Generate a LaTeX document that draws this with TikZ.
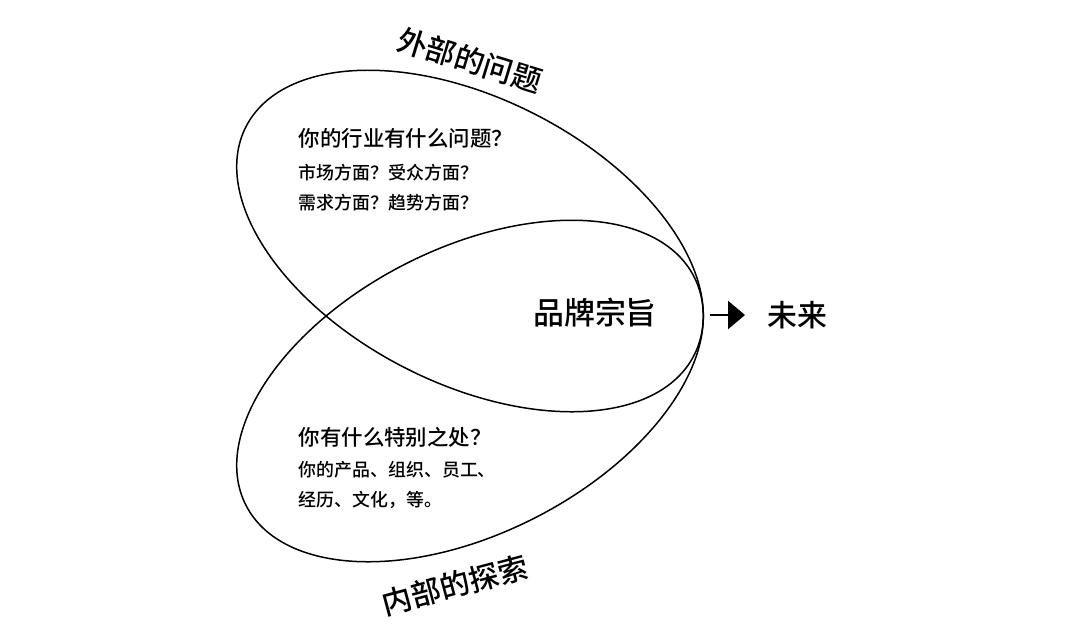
\documentclass[tikz,border=0pt]{standalone}
\usepackage{fontspec}
\setmainfont{Noto Sans CJK SC}[BoldFont={Noto Sans CJK SC Medium}]
\usetikzlibrary{arrows.meta,positioning}

\begin{document}
\begin{tikzpicture}[>={Triangle[length=0.34cm,width=0.56cm]},
 title/.style={font=\bfseries\fontsize{17pt}{20pt}\selectfont,inner sep=0pt},
 ask/.style={anchor=west,font=\bfseries\fontsize{12.2pt}{14pt}\selectfont,inner sep=0pt},
 hint/.style={anchor=west,font=\bfseries\fontsize{10.2pt}{12pt}\selectfont,inner sep=0pt},
 loop/.style={line width=0.85pt},every path/.style={line width=0.85pt}]
\useasboundingbox (0,0) rectangle (21.6,-12.58);
\draw[loop] (9.4,-4.82) ellipse[x radius=5.03cm,y radius=2.85cm,rotate=-27];
\draw[loop] (9.4,-7.82) ellipse[x radius=5.03cm,y radius=2.85cm,rotate=27];
\node[title,rotate=-17] (outer) at (9.4,-1.2) {外部的问题};
\node[title,rotate=15] (inner) at (9.1,-11.7) {内部的探索};
\node[ask] (outerq) at (5.96,-2.76) {你的行业有什么问题？};
\node[hint] (outerh1) at (5.96,-3.46) {市场方面？受众方面？};
\node[hint] (outerh2) at (5.96,-4.06) {需求方面？趋势方面？};
\node[ask] (innerq) at (5.96,-8.74) {你有什么特别之处？};
\node[hint] (innerh1) at (5.96,-9.4) {你的产品、组织、员工、};
\node[hint] (innerh2) at (5.96,-10.0) {经历、文化，等。};
\node[title,font=\bfseries\fontsize{17.6pt}{20pt}\selectfont] (purpose) at (11.9,-6.26) {品牌宗旨};
\node[title,inner sep=0.44cm,anchor=west] (future) at (14.9,-6.3) {未来};
\coordinate (start) at (14.2,-6.3);
\draw[->,line width=1.3pt] (start) -- (future);
\end{tikzpicture}
\end{document}
